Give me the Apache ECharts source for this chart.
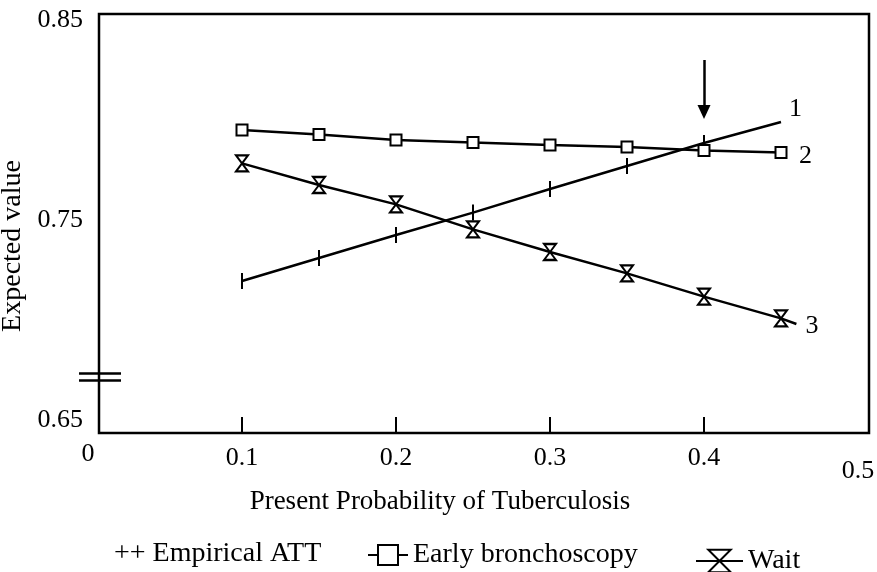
<!DOCTYPE html>
<html>
<head>
<meta charset="utf-8">
<script src="https://cdn.jsdelivr.net/npm/echarts@6/dist/echarts.min.js"></script>
<style>
  html, body { margin: 0; padding: 0; background: #fff; }
  #chart { width: 877px; height: 572px; }
</style>
</head>
<body>
<div id="chart"></div>
<script>
  // x values (present probability of TB)
  var probs = [0.1, 0.15, 0.2, 0.25, 0.3, 0.35, 0.4, 0.45]
  // expected values
  var empiricalATT = [0.7195, 0.731, 0.7425, 0.7537, 0.7655, 0.777, 0.7885, 0.799]
  var earlyBronch = [0.795, 0.7927, 0.790, 0.7887, 0.7875, 0.7865, 0.7847, 0.7837]
  var waitVals = [0.7783, 0.7675, 0.7578, 0.7453, 0.734, 0.7233, 0.7117, 0.7008]
  var waitTail = [0.46, 0.698] // line runs on a little past the last marker
  var xTicks = [0.1, 0.2, 0.3, 0.4]
  var yLabels = [0.65, 0.75, 0.85]
  var seriesNames = ['Empirical ATT', 'Early bronchoscopy', 'Wait']
  var endNames = ['1', '2', '3']
  var arrowAt = [0.4, 0.83, 0.804] // x, from y, to y
  var breakAt = [0.6735, 0.670] // the "//" axis break on the y axis

  var font = 'Liberation Serif'
  var plusSym = 'path://M1 0L1 10M0 5L2 5'
  var hourSym = 'path://M0 0L10 0L0 12L10 12Z'

  function pairs(vals, markLast) {
    return vals.map(function (v, i) {
      var item = {value: [probs[i], v]}
      if (markLast && i === vals.length - 1) item.symbol = 'none'
      return item
    })
  }

  var waitData = pairs(waitVals)
  waitData.push({value: waitTail, symbol: 'none'})

  var chart = echarts.init(document.getElementById('chart'))

  var endLabel = function (txt, off) {
    return {
      show: true,
      formatter: txt,
      offset: off,
      fontFamily: font,
      fontSize: 26,
      color: '#000'
    }
  }

  chart.setOption({
    animation: false,
    backgroundColor: '#fff',
    grid: [
      // outer frame
      {left: 99, top: 14, width: 770, height: 419, show: true, borderColor: '#000', borderWidth: 2.5, backgroundColor: 'transparent', containLabel: false, outerBoundsMode: 'none'},
      // plotting area (0..0.5, 0.65..0.85)
      {left: 88, right: 19, top: 20, bottom: 152, containLabel: false, outerBoundsMode: 'none'},
      // strip around the y axis for the break marks
      {left: 79, width: 42, top: 20, bottom: 152, containLabel: false, outerBoundsMode: 'none'}
    ],
    xAxis: [
      {
        gridIndex: 0, type: 'value',
        min: (99 - 88) / 1540, max: (869 - 88) / 1540,
        axisLine: {show: false},
        axisTick: {show: true, inside: true, length: 16, customValues: xTicks, lineStyle: {color: '#000', width: 2}},
        axisLabel: {show: false},
        splitLine: {show: false}
      },
      {
        gridIndex: 1, type: 'value', min: 0, max: 0.5, interval: 0.1,
        axisLine: {show: false},
        axisTick: {show: false},
        splitLine: {show: false},
        axisLabel: {
          margin: 25,
          formatter: function (v) {
            var s = v === 0 ? '0' : v.toFixed(1)
            if (v === 0) return '{z|' + s + '}'
            if (v > 0.49) return '{f|' + s + '}'
            return '{n|' + s + '}'
          },
          rich: {
            n: {fontFamily: font, fontSize: 26, color: '#000', lineHeight: 26},
            z: {fontFamily: font, fontSize: 26, color: '#000', lineHeight: 18},
            f: {fontFamily: font, fontSize: 26, color: '#000', lineHeight: 52}
          }
        },
        name: 'Present Probability of Tuberculosis',
        nameLocation: 'middle',
        nameGap: 63,
        nameTextStyle: {fontFamily: font, fontSize: 27, color: '#000', padding: [0, 66, 0, 0]}
      },
      {gridIndex: 2, type: 'value', show: false, min: 0, max: 1}
    ],
    yAxis: [
      {gridIndex: 0, type: 'value', show: false, min: 0, max: 1},
      {
        gridIndex: 1, type: 'value', min: 0.65, max: 0.85,
        axisLine: {show: false},
        axisTick: {show: false},
        splitLine: {show: false},
        axisLabel: {
          customValues: yLabels,
          margin: 5,
          fontFamily: font, fontSize: 26, color: '#000',
          formatter: function (v) { return v.toFixed(2) }
        },
        name: 'Expected value',
        nameLocation: 'middle',
        nameGap: 50,
        nameTextStyle: {fontFamily: font, fontSize: 28, color: '#000', padding: [0, 52, 0, 0]}
      },
      {gridIndex: 2, type: 'value', show: false, min: 0.65, max: 0.85}
    ],
    legend: [
      {
        left: 102, top: 535, itemWidth: 1, itemHeight: 1,
        data: [{name: seriesNames[0], icon: 'rect', itemStyle: {opacity: 0}}],
        formatter: function (n) { return '++ ' + n },
        textStyle: {fontFamily: font, fontSize: 28, color: '#000'}
      },
      {
        left: 362, top: 536, itemWidth: 40, itemHeight: 25,
        data: [seriesNames[1]],
        textStyle: {fontFamily: font, fontSize: 28, color: '#000'}
      },
      {
        left: 690, top: 542, itemWidth: 47, itemHeight: 28,
        data: [seriesNames[2]],
        textStyle: {fontFamily: font, fontSize: 28, color: '#000'}
      }
    ],
    series: [
      {
        name: seriesNames[0], type: 'line', xAxisIndex: 1, yAxisIndex: 1,
        data: pairs(empiricalATT, true),
        symbol: plusSym, symbolSize: [2, 16],
        lineStyle: {color: '#000', width: 2.5},
        itemStyle: {color: '#fff', borderColor: '#000', borderWidth: 2},
        endLabel: endLabel(endNames[0], [0, -13])
      },
      {
        name: seriesNames[1], type: 'line', xAxisIndex: 1, yAxisIndex: 1,
        data: pairs(earlyBronch),
        symbol: 'rect', symbolSize: 11,
        lineStyle: {color: '#000', width: 2.5},
        itemStyle: {color: '#fff', borderColor: '#000', borderWidth: 2},
        endLabel: endLabel(endNames[1], [10, 4])
      },
      {
        name: seriesNames[2], type: 'line', xAxisIndex: 1, yAxisIndex: 1,
        data: waitData,
        symbol: hourSym, symbolSize: [12, 16],
        lineStyle: {color: '#000', width: 2.5},
        itemStyle: {color: '#fff', borderColor: '#000', borderWidth: 2},
        endLabel: endLabel(endNames[2], [1, 2]),
        z: 3
      },
      {
        // arrow marking the threshold
        type: 'line', xAxisIndex: 1, yAxisIndex: 1, data: [],
        markLine: {
          silent: true,
          symbol: ['none', 'none'],
          label: {show: false},
          lineStyle: {color: '#000', width: 2.5, type: 'solid'},
          data: [
            [{coord: [arrowAt[0], arrowAt[1]]}, {coord: [arrowAt[0], arrowAt[2]], symbol: 'triangle', symbolSize: [13, 14], symbolRotate: 180}]
          ]
        }
      },
      {
        // axis break marks
        type: 'line', xAxisIndex: 2, yAxisIndex: 2, data: [],
        markLine: {
          silent: true,
          symbol: ['none', 'none'],
          label: {show: false},
          lineStyle: {color: '#000', width: 2.5, type: 'solid'},
          data: breakAt.map(function (y) {
            return [{coord: [0, y]}, {coord: [1, y]}]
          })
        }
      }
    ]
  })
</script>
</body>
</html>
